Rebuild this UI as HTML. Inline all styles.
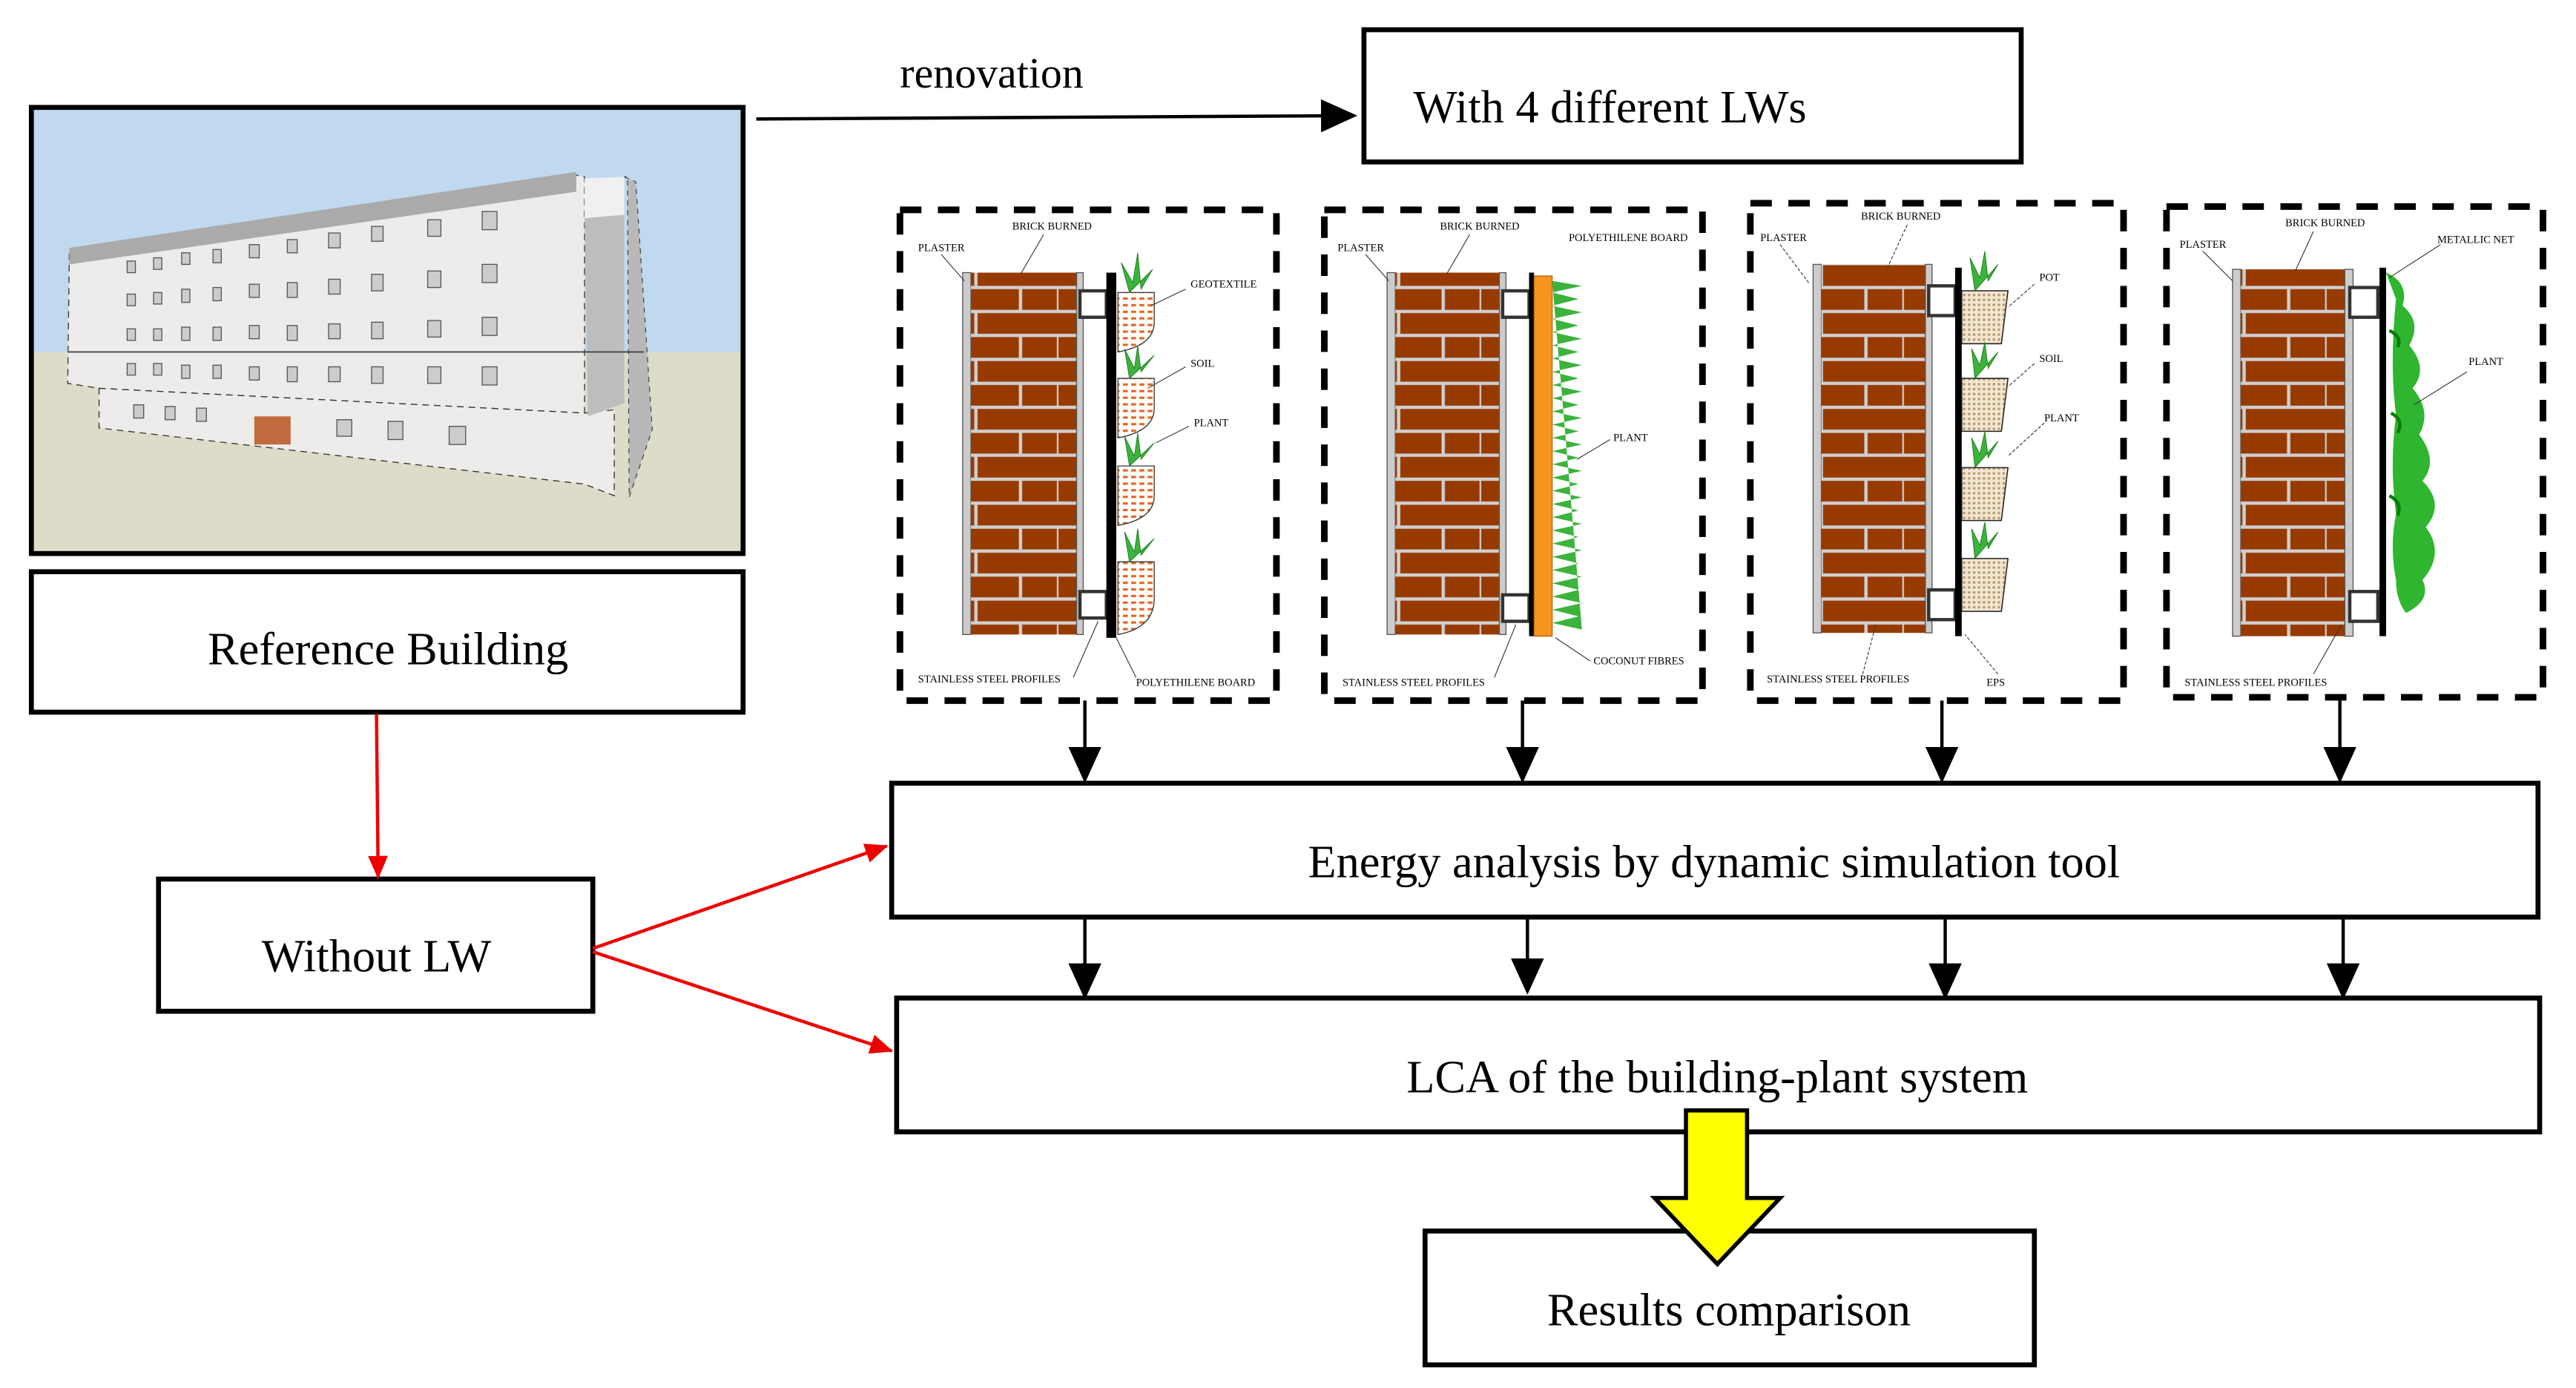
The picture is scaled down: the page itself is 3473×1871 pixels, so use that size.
<!DOCTYPE html>
<html><head><meta charset="utf-8"><style>
html,body{margin:0;padding:0;background:#fff}
svg{display:block}
text{font-family:"Liberation Serif",serif;fill:#000}
.s{font-size:6.5px}
</style></head><body>
<svg width="3473" height="1871" viewBox="0 0 1560 840" preserveAspectRatio="none" xmlns="http://www.w3.org/2000/svg">
<defs>
<pattern id="br" x="0" y="0" width="64" height="29" patternUnits="userSpaceOnUse">
<rect width="64" height="29" fill="#cfcfcf"/>
<rect x="1" y="1" width="40" height="12.5" fill="#973a00"/>
<rect x="43" y="1" width="21" height="12.5" fill="#973a00"/>
<rect x="0" y="15.5" width="14" height="12.5" fill="#973a00"/>
<rect x="16" y="15.5" width="48" height="12.5" fill="#973a00"/>
</pattern>
<pattern id="soil" width="5" height="4" patternUnits="userSpaceOnUse"><rect width="5" height="4" fill="#fff"/><rect x="0" y="0" width="3" height="1.4" fill="#e8641c"/></pattern>
<pattern id="pot" width="3" height="3" patternUnits="userSpaceOnUse"><rect width="3" height="3" fill="#f3e6d0"/><circle cx="1.5" cy="1.5" r="0.8" fill="#b59a70"/></pattern>
<marker id="ab" markerWidth="10" markerHeight="10" refX="9" refY="5" orient="auto" markerUnits="userSpaceOnUse"><path d="M0,0 L10,5 L0,10 Z" fill="#000"/></marker>
<marker id="ar" markerWidth="14" markerHeight="12" refX="13" refY="6" orient="auto" markerUnits="userSpaceOnUse"><path d="M0,0 L14,6 L0,12 Z" fill="#e00"/></marker>
<marker id="ad" markerWidth="22" markerHeight="20" refX="20" refY="10" orient="auto" markerUnits="userSpaceOnUse"><path d="M0,0 L22,10 L0,20 Z" fill="#000"/></marker>
</defs>

<!-- picture -->
<rect x="19" y="65" width="431" height="270" fill="#dcdcc8"/>
<rect x="19" y="65" width="431" height="148" fill="#c0d9ef"/>
<polygon points="42,153 349,106 354,107 354,250 60,235 41,232" fill="#eeecea" stroke="#333" stroke-width="0.6" stroke-dasharray="4,3"/>
<polygon points="42,150 349,104 349,116 42,160" fill="#aaa"/>
<polygon points="60,235 354,250 372,248 372,300 354,293 60,259" fill="#eeecea" stroke="#333" stroke-width="0.6" stroke-dasharray="4,3"/>
<polygon points="354,132 378,130 378,244 356,252" fill="#bdbdbd"/>
<polygon points="354,108 378,107 378,130 354,132" fill="#f0f0f0"/>
<polygon points="378,107 385,110 395,260 381,301 380,107" fill="#b8b8b8" stroke="#333" stroke-width="0.5" stroke-dasharray="3,3"/>
<line x1="41" y1="213" x2="390" y2="213" stroke="#444" stroke-width="0.8"/>
<g fill="#ccc" stroke="#555" stroke-width="0.6">
<rect x="77" y="158" width="5" height="7"/><rect x="93" y="156" width="5" height="7"/><rect x="110" y="153" width="5" height="7"/><rect x="129" y="151" width="5" height="8"/><rect x="151" y="148" width="6" height="8"/><rect x="174" y="145" width="6" height="8"/><rect x="199" y="141" width="7" height="9"/><rect x="225" y="137" width="7" height="9"/><rect x="259" y="133" width="8" height="10"/><rect x="292" y="128" width="9" height="11"/>
<rect x="77" y="178" width="5" height="7"/><rect x="93" y="177" width="5" height="7"/><rect x="110" y="175" width="5" height="8"/><rect x="129" y="174" width="5" height="8"/><rect x="151" y="172" width="6" height="8"/><rect x="174" y="171" width="6" height="9"/><rect x="199" y="169" width="7" height="9"/><rect x="225" y="166" width="7" height="10"/><rect x="259" y="164" width="8" height="10"/><rect x="292" y="160" width="9" height="11"/>
<rect x="77" y="199" width="5" height="7"/><rect x="93" y="199" width="5" height="7"/><rect x="110" y="198" width="5" height="8"/><rect x="129" y="198" width="5" height="8"/><rect x="151" y="197" width="6" height="8"/><rect x="174" y="197" width="6" height="9"/><rect x="199" y="196" width="7" height="9"/><rect x="225" y="195" width="7" height="10"/><rect x="259" y="194" width="8" height="10"/><rect x="292" y="192" width="9" height="11"/>
<rect x="77" y="220" width="5" height="7"/><rect x="93" y="220" width="5" height="7"/><rect x="110" y="221" width="5" height="8"/><rect x="129" y="221" width="5" height="8"/><rect x="151" y="222" width="6" height="8"/><rect x="174" y="222" width="6" height="9"/><rect x="199" y="222" width="7" height="9"/><rect x="225" y="222" width="7" height="10"/><rect x="259" y="222" width="8" height="10"/><rect x="292" y="222" width="9" height="11"/>
<rect x="81" y="245" width="6" height="8"/><rect x="100" y="246" width="6" height="8"/><rect x="119" y="247" width="6" height="8"/><rect x="204" y="254" width="9" height="10"/><rect x="235" y="255" width="9" height="11"/><rect x="272" y="258" width="10" height="11"/>
</g>
<rect x="154" y="252" width="22" height="17" fill="#c06a3e"/>
<rect x="19" y="65" width="431" height="270" fill="none" stroke="#000" stroke-width="3"/>

<rect x="19" y="346" width="431" height="85" fill="#fff" stroke="#000" stroke-width="3"/>
<text x="235" y="402" font-size="28" text-anchor="middle">Reference Building</text>

<line x1="458" y1="72" x2="820" y2="70" stroke="#000" stroke-width="2" marker-end="url(#ad)"/>
<text x="545" y="53" font-size="26">renovation</text>
<rect x="826" y="18" width="398" height="80" fill="#fff" stroke="#000" stroke-width="3"/>
<text x="856" y="74" font-size="28">With 4 different LWs</text>

<!-- dashed boxes -->
<g fill="none" stroke="#000" stroke-width="4" stroke-dasharray="13,10">
<rect x="545" y="127" width="228" height="297"/>
<rect x="802" y="127" width="229" height="297"/>
<rect x="1060" y="123" width="226" height="301"/>
<rect x="1312" y="125" width="228" height="297"/>
</g>

<!-- wall 1 -->
<rect x="583" y="165" width="5" height="219" fill="#ccc" stroke="#555" stroke-width="0.6"/>
<rect x="588" y="165" width="64" height="219" fill="url(#br)"/>
<rect x="652" y="165" width="4" height="219" fill="#ccc" stroke="#555" stroke-width="0.6"/>
<rect x="654" y="176" width="16" height="16" fill="#fff" stroke="#333" stroke-width="2"/>
<rect x="654" y="358" width="16" height="16" fill="#fff" stroke="#333" stroke-width="2"/>
<rect x="670" y="165" width="6" height="221" fill="#000"/>
<g stroke="#333" stroke-width="0.6" fill="url(#soil)">
<path d="M677,177 h22 v18 q0,14 -22,18 z"/><path d="M677,229 h22 v18 q0,14 -22,18 z"/><path d="M677,282 h22 v18 q0,14 -22,18 z"/><path d="M677,340 h22 v22 q0,18 -22,22 z"/>
</g>
<g fill="#3cb33c" stroke="#1a7a1a" stroke-width="0.4">
<path d="M684,177 l-5,-18 l7,12 l3,-18 l2,22 l7,-12 z"/><path d="M684,229 l-3,-18 l6,12 l2,-14 l2,16 l8,-10 z"/><path d="M684,282 l-3,-18 l6,12 l2,-14 l2,16 l8,-10 z"/><path d="M684,340 l-3,-18 l6,12 l2,-14 l2,16 l8,-10 z"/>
</g>
<g stroke="#333" stroke-width="0.5"><line x1="570" y1="154" x2="584" y2="170"/><line x1="632" y1="142" x2="618" y2="166"/><line x1="718" y1="175" x2="697" y2="185"/><line x1="718" y1="222" x2="695" y2="235"/><line x1="720" y1="258" x2="700" y2="268"/><line x1="650" y1="410" x2="665" y2="376"/><line x1="688" y1="410" x2="676" y2="386"/></g>
<text class="s" x="556" y="152">PLASTER</text><text class="s" x="613" y="139">BRICK BURNED</text><text class="s" x="721" y="174">GEOTEXTILE</text><text class="s" x="721" y="222">SOIL</text><text class="s" x="723" y="258">PLANT</text><text class="s" x="556" y="413">STAINLESS STEEL PROFILES</text><text class="s" x="688" y="415">POLYETHILENE BOARD</text>

<!-- wall 2 -->
<rect x="840" y="165" width="5" height="219" fill="#ccc" stroke="#555" stroke-width="0.6"/>
<rect x="845" y="165" width="63" height="219" fill="url(#br)"/>
<rect x="908" y="165" width="4" height="219" fill="#ccc" stroke="#555" stroke-width="0.6"/>
<rect x="910" y="176" width="16" height="16" fill="#fff" stroke="#333" stroke-width="2"/>
<rect x="910" y="360" width="16" height="16" fill="#fff" stroke="#333" stroke-width="2"/>
<rect x="926" y="165" width="3" height="220" fill="#000"/>
<rect x="929" y="167" width="11" height="218" fill="#f7941d" stroke="#a85a00" stroke-width="0.5"/>
<path d="M940,170 l18,3 l-18,4 l16,4 l-16,4 l18,4 l-18,4 l16,4 l-16,4 l18,4 l-18,4 l16,4 l-16,4 l18,4 l-18,4 l16,4 l-16,4 l18,4 l-18,4 l16,4 l-16,4 l18,4 l-18,4 l16,4 l-16,4 l18,4 l-18,4 l16,4 l-16,4 l18,4 l-18,4 l16,4 l-16,4 l18,4 l-18,4 l16,4 l-16,4 l18,4 l-18,4 l16,4 l-16,4 l18,4 l-18,4 l16,4 l-16,4 l18,4 l-18,4 l16,4 l-16,4 l18,4 l-18,4 l16,4 l-16,4 l18,4 z" fill="#3cb33c"/>
<g stroke="#333" stroke-width="0.5"><line x1="827" y1="154" x2="841" y2="170"/><line x1="890" y1="142" x2="876" y2="166"/><line x1="975" y1="266" x2="955" y2="278"/><line x1="905" y1="410" x2="918" y2="378"/><line x1="963" y1="400" x2="942" y2="386"/></g>
<text class="s" x="810" y="152">PLASTER</text><text class="s" x="872" y="139">BRICK BURNED</text><text class="s" x="950" y="146">POLYETHILENE BOARD</text><text class="s" x="977" y="267">PLANT</text><text class="s" x="813" y="415">STAINLESS STEEL PROFILES</text><text class="s" x="965" y="402">COCONUT FIBRES</text>

<!-- wall 3 -->
<rect x="1098" y="160" width="5" height="223" fill="#ccc" stroke="#555" stroke-width="0.6"/>
<rect x="1103" y="160" width="63" height="223" fill="url(#br)"/>
<rect x="1166" y="160" width="4" height="223" fill="#ccc" stroke="#555" stroke-width="0.6"/>
<rect x="1168" y="173" width="16" height="18" fill="#fff" stroke="#333" stroke-width="2"/>
<rect x="1168" y="357" width="16" height="18" fill="#fff" stroke="#333" stroke-width="2"/>
<rect x="1184" y="162" width="4" height="223" fill="#000"/>
<g fill="url(#pot)" stroke="#222" stroke-width="0.7">
<path d="M1188,176 h28 l-4,32 h-24 z"/><path d="M1188,229 h28 l-4,32 h-24 z"/><path d="M1188,283 h28 l-4,32 h-24 z"/><path d="M1188,338 h28 l-4,32 h-24 z"/>
</g>
<g fill="#3cb33c" stroke="#1a7a1a" stroke-width="0.4">
<path d="M1196,176 l-3,-20 l6,12 l3,-16 l2,18 l6,-10 z"/><path d="M1196,229 l-2,-18 l5,10 l3,-14 l2,16 l6,-10 z"/><path d="M1196,283 l-2,-18 l5,10 l3,-14 l2,16 l6,-10 z"/><path d="M1196,338 l-2,-18 l5,10 l3,-14 l2,16 l6,-10 z"/>
</g>
<g stroke="#333" stroke-width="0.5" stroke-dasharray="2,1"><line x1="1078" y1="148" x2="1096" y2="172"/><line x1="1155" y1="136" x2="1143" y2="162"/><line x1="1232" y1="172" x2="1216" y2="186"/><line x1="1232" y1="220" x2="1216" y2="234"/><line x1="1238" y1="256" x2="1216" y2="276"/><line x1="1128" y1="408" x2="1136" y2="378"/><line x1="1210" y1="408" x2="1190" y2="384"/></g>
<text class="s" x="1066" y="146">PLASTER</text><text class="s" x="1127" y="133">BRICK BURNED</text><text class="s" x="1235" y="170">POT</text><text class="s" x="1235" y="219">SOIL</text><text class="s" x="1238" y="255">PLANT</text><text class="s" x="1070" y="413">STAINLESS STEEL PROFILES</text><text class="s" x="1203" y="415">EPS</text>

<!-- wall 4 -->
<rect x="1352" y="163" width="5" height="222" fill="#ccc" stroke="#555" stroke-width="0.6"/>
<rect x="1357" y="163" width="63" height="222" fill="url(#br)"/>
<rect x="1420" y="163" width="5" height="222" fill="#ccc" stroke="#555" stroke-width="0.6"/>
<rect x="1423" y="174" width="17" height="18" fill="#fff" stroke="#333" stroke-width="2"/>
<rect x="1423" y="358" width="17" height="18" fill="#fff" stroke="#333" stroke-width="2"/>
<rect x="1441" y="162" width="4" height="223" fill="#000"/>
<path d="M1445,165 q14,6 10,20 q12,10 4,24 q12,14 2,26 q12,14 4,28 q12,16 2,28 q14,14 2,28 q12,16 -2,32 q6,12 -10,20 q-6,-8 -6,-20 q-4,-20 0,-40 q-4,-30 0,-60 q-4,-30 0,-70 z" fill="#2fb52f"/>
<path d="M1447,200 q8,4 5,10 M1448,250 q8,4 4,12 M1447,300 q8,4 5,12" stroke="#0a7a0a" stroke-width="2" fill="none"/>
<g stroke="#333" stroke-width="0.5"><line x1="1334" y1="152" x2="1352" y2="170"/><line x1="1401" y1="140" x2="1390" y2="164"/><line x1="1478" y1="148" x2="1447" y2="168"/><line x1="1494" y1="225" x2="1462" y2="245"/><line x1="1401" y1="408" x2="1418" y2="378"/></g>
<text class="s" x="1320" y="150">PLASTER</text><text class="s" x="1384" y="137">BRICK BURNED</text><text class="s" x="1476" y="147">METALLIC NET</text><text class="s" x="1495" y="221">PLANT</text><text class="s" x="1323" y="415">STAINLESS STEEL PROFILES</text>

<!-- down arrows -->
<g stroke="#000" stroke-width="2" marker-end="url(#ad)">
<line x1="657" y1="424" x2="657" y2="472"/><line x1="922" y1="424" x2="922" y2="472"/><line x1="1176" y1="424" x2="1176" y2="472"/><line x1="1417" y1="424" x2="1417" y2="472"/>
<line x1="657" y1="555" x2="657" y2="603"/><line x1="925" y1="555" x2="925" y2="600"/><line x1="1178" y1="555" x2="1178" y2="603"/><line x1="1419" y1="555" x2="1419" y2="603"/>
</g>

<rect x="540" y="474" width="997" height="81" fill="#fff" stroke="#000" stroke-width="3"/>
<text x="1038" y="531" font-size="28" text-anchor="middle">Energy analysis by dynamic simulation tool</text>
<rect x="543" y="604" width="995" height="81" fill="#fff" stroke="#000" stroke-width="3"/>
<text x="1040" y="661" font-size="28" text-anchor="middle">LCA of the building-plant system</text>

<rect x="863" y="745" width="369" height="81" fill="#fff" stroke="#000" stroke-width="3"/>
<text x="1047" y="802" font-size="28" text-anchor="middle">Results comparison</text>
<path d="M1021,672 h37 v53 h20 l-38,40 l-38,-40 h19 z" fill="#ffff00" stroke="#000" stroke-width="2.5"/>

<rect x="96" y="532" width="263" height="80" fill="#fff" stroke="#000" stroke-width="3"/>
<text x="228" y="588" font-size="28" text-anchor="middle">Without LW</text>

<g stroke="#e00" stroke-width="2">
<line x1="228" y1="432" x2="229" y2="531" marker-end="url(#ar)"/>
<line x1="359" y1="574" x2="537" y2="512" marker-end="url(#ar)"/>
<line x1="359" y1="576" x2="540" y2="636" marker-end="url(#ar)"/>
</g>
</svg>
</body></html>
